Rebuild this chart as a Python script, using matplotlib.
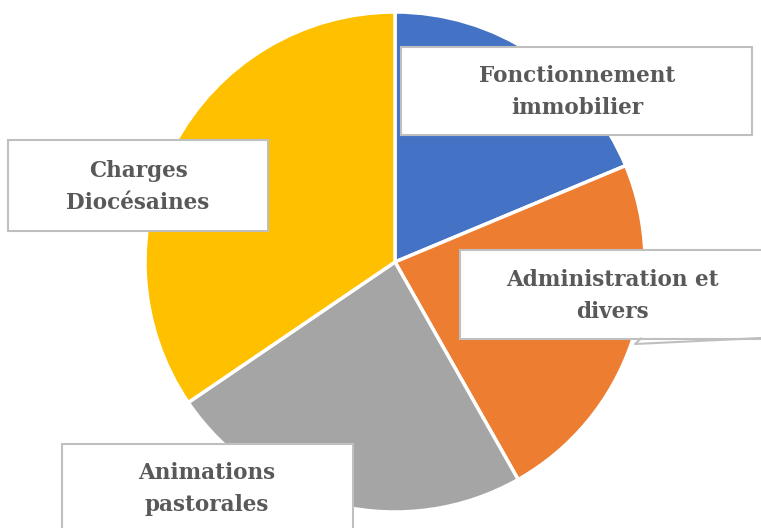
import matplotlib
matplotlib.use("Agg")
import matplotlib.pyplot as plt
from matplotlib.patches import Rectangle

# shares of the budget (in %)
categories = ["Fonctionnement\nimmobilier", "Administration et\ndivers",
              "Animations\npastorales", "Charges\nDiocésaines"]
shares = [18.7, 23.1, 23.7, 34.5]
colors = ["#4472C4", "#ED7D31", "#A5A5A5", "#FFC000"]

W, H = 761, 528
fig = plt.figure(figsize=(W / 100, H / 100), dpi=100)

# pie: centre (395, 262) px, radius 250 px
cx, cy, r = 395, 262, 250
ax = fig.add_axes([(cx - r) / W, (H - cy - r) / H, 2 * r / W, 2 * r / H])
ax.pie(shares, colors=colors, startangle=90, counterclock=False,
       wedgeprops=dict(edgecolor="white", linewidth=2.5))
ax.set_xlim(-1, 1)
ax.set_ylim(-1, 1)
ax.set_aspect("equal")

# overlay in pixel coords for the label boxes
ov = fig.add_axes([0, 0, 1, 1])
ov.set_xlim(0, W)
ov.set_ylim(H, 0)
ov.axis("off")

# box (x, y, w, h) and text centre per label
boxes = [(401, 47, 351, 88), (460, 250, 320, 89), (62, 444, 291, 100), (8, 140, 260, 91)]
text_pos = [(577, 92), (612, 296), (207, 489), (138, 187)]
for (x, y, w, h), (tx, ty), lab in zip(boxes, text_pos, categories):
    ov.add_patch(Rectangle((x, y), w, h, facecolor="white", edgecolor="#BFBFBF", linewidth=1.5))
    ov.text(tx, ty, lab, ha="center", va="center", fontsize=15.5, fontweight="bold",
            family="DejaVu Serif", color="#595959", linespacing=1.6)

# callout tail of the Administration box
ov.plot([641, 635, W], [338.5, 344, 338], color="#BFBFBF", linewidth=1.5)

fig.savefig("out.png", dpi=100)
